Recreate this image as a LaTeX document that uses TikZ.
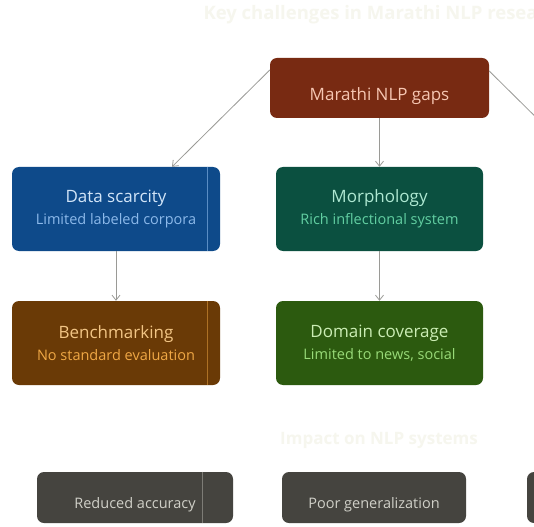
\documentclass[tikz,border=0pt]{standalone}
\usepackage{fontspec}
\setmainfont{Open Sans}
\usetikzlibrary{arrows.meta}

\definecolor{rootfill}{HTML}{782A12}
\definecolor{roottext}{HTML}{F6C6B2}
\definecolor{datafill}{HTML}{0E4A8A}
\definecolor{datatext}{HTML}{D2E5F8}
\definecolor{datasub}{HTML}{8CB9EA}
\definecolor{morphfill}{HTML}{0B5040}
\definecolor{morphtext}{HTML}{AEE8D2}
\definecolor{morphsub}{HTML}{62CFA2}
\definecolor{benchfill}{HTML}{6A3A06}
\definecolor{benchtext}{HTML}{F2C585}
\definecolor{benchsub}{HTML}{F0A845}
\definecolor{domfill}{HTML}{2C5A0F}
\definecolor{domtext}{HTML}{CBEDB4}
\definecolor{domsub}{HTML}{98DA78}
\definecolor{impfill}{HTML}{45443F}
\definecolor{imptext}{HTML}{D0D0C8}
\definecolor{faint}{HTML}{F6F6EE}
\definecolor{arrgray}{HTML}{9A9A96}

\newcommand{\hdtxt}[2]{\textcolor{#1}{\fontsize{17}{20}\selectfont #2}}
\newcommand{\subtxt}[2]{\textcolor{#1}{\fontsize{14.5}{17}\selectfont #2}}

\begin{document}
\begin{tikzpicture}[x=1pt, y=-1pt,
        box/.style={rectangle, rounded corners=7pt, minimum width=208pt,
          minimum height=84pt, inner sep=0pt, align=center},
        imp/.style={box, fill=impfill, minimum height=51pt, text=imptext,
          font=\fontsize{14.5}{17}\selectfont},
        hd/.style={font=\bfseries\fontsize{18.5}{21}\selectfont, text=faint},
        arr/.style={draw=arrgray, line width=.8pt, -{Straight Barb[length=5pt, width=8pt]}},
        sep/.style={line width=.5pt}]

      \clip (0,0) rectangle (534,526);
      \useasboundingbox (0,0) rectangle (534,526);
      \fill[white] (0,0) rectangle (534,526);

      % heading
      \node[hd, anchor=west] (title) at (200,15) {Key challenges in Marathi NLP research};

      % root
      \node[box, fill=rootfill, minimum width=219pt, minimum height=60pt,
        text=roottext, font=\fontsize{17}{20}\selectfont] (root) at (379.5,88)
        {\raisebox{-13pt}[0pt][0pt]{Marathi NLP gaps}};

      % gaps
      \node[box, fill=datafill] (data) at (116,209)
        {\hdtxt{datatext}{Data scarcity}\\[6pt] \subtxt{datasub}{Limited labeled corpora}};
      \node[box, fill=morphfill, minimum width=207pt] (morph) at (379.5,209)
        {\hdtxt{morphtext}{Morphology}\\[6pt] \subtxt{morphsub}{Rich inflectional system}};
      \node[box, fill=benchfill] (bench) at (116,343)
        {\hdtxt{benchtext}{Benchmarking}\\[6pt] \subtxt{benchsub}{No standard evaluation}};
      \node[box, fill=domfill, minimum width=207pt] (dom) at (379.5,343)
        {\hdtxt{domtext}{Domain coverage}\\[6pt] \subtxt{domsub}{Limited to news, social}};

      % thin seams
      \draw[sep, draw=datasub!60!datafill] ([xshift=-13pt]data.north east) -- ([xshift=-13pt]data.south east);
      \draw[sep, draw=benchsub!50!benchfill] ([xshift=-13pt]bench.north east) -- ([xshift=-13pt]bench.south east);

      % impact
      \node[hd, font=\bfseries\fontsize{17}{20}\selectfont] (impact) at (379,440) {Impact on NLP systems};
      \node[imp, minimum width=196pt] (acc) at (135,497.5) {\raisebox{-11pt}[0pt][0pt]{Reduced accuracy}};
      \node[imp, minimum width=184pt] (gen) at (374,497.5) {\raisebox{-11pt}[0pt][0pt]{Poor generalization}};
      \node[imp, minimum width=184pt] (more) at (619,497.5) {};
      \draw[sep, draw=imptext!40!impfill] ([xshift=-31pt]acc.north east) -- ([xshift=-31pt]acc.south east);

      % connectors
      \coordinate (offright) at (560,141);
      \draw[arr] ([yshift=18pt]root.west) -- ([xshift=56pt]data.north);
      \draw[arr] (root) -- (morph);
      \draw[arrgray, line width=.8pt] ([yshift=17pt]root.east) -- (offright);
      \draw[arr] (data) -- (bench);
      \draw[arr] (morph) -- (dom);
    \end{tikzpicture}
\end{document}
